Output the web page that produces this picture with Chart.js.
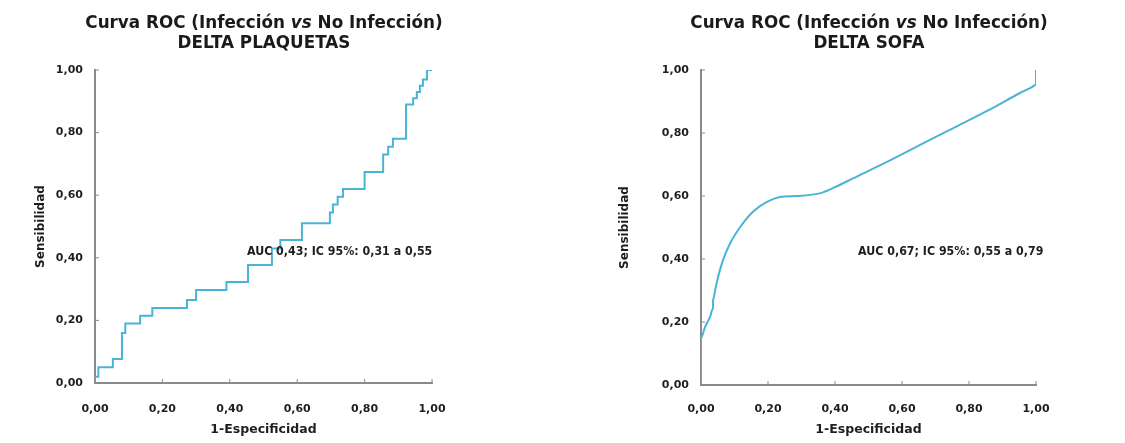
<!DOCTYPE html>
<html>
<head>
<meta charset="utf-8">
<script src="https://cdn.jsdelivr.net/npm/chart.js@4/dist/chart.umd.min.js"></script>
<style>
  body { margin: 0; background: #fff; }
  #page { position: relative; width: 1125px; height: 443px; overflow: hidden; }
  .box { position: absolute; top: 0; height: 443px; }
  .title {
    position: absolute; width: 500px; text-align: center;
    font-family: "DejaVu Sans", sans-serif; font-weight: bold; font-size: 16.8px;
    color: #1a1a1a; line-height: 20px;
  }
  .title i { font-style: italic; }
</style>
</head>
<body>
<div id="page">
  <div class="box" style="left:0;width:562px"><canvas id="leftChart"></canvas></div>
  <div class="box" style="left:562px;width:563px"><canvas id="rightChart"></canvas></div>
  <div class="title" style="left:14px;top:12px">Curva ROC (Infección <i>vs</i> No Infección)<br>DELTA PLAQUETAS</div>
  <div class="title" style="left:619px;top:12px">Curva ROC (Infección <i>vs</i> No Infección)<br>DELTA SOFA</div>
</div>
<script>
// Delta plaquetas ROC (step points: horizontal then vertical)
const plaqFpr = [0, 0, 0.01, 0.053, 0.08, 0.09, 0.134, 0.17, 0.273, 0.30, 0.39, 0.454, 0.525, 0.55, 0.614, 0.697, 0.706, 0.72, 0.736, 0.80, 0.855, 0.87, 0.884, 0.923, 0.944, 0.955, 0.964, 0.973, 0.985, 1];
const plaqTpr = [0, 0.02, 0.05, 0.077, 0.16, 0.19, 0.215, 0.24, 0.265, 0.297, 0.323, 0.377, 0.43, 0.457, 0.51, 0.545, 0.57, 0.595, 0.62, 0.674, 0.73, 0.755, 0.78, 0.89, 0.91, 0.93, 0.95, 0.97, 1, 1];

// Delta SOFA ROC (smooth curve)
const sofaFpr = [0, 0, 0.012, 0.027, 0.036, 0.036, 0.042, 0.051, 0.066, 0.087, 0.116, 0.155, 0.197, 0.236, 0.287, 0.36, 0.40, 0.454, 0.555, 0.654, 0.752, 0.854, 0.952, 0.997, 1, 1];
const sofaTpr = [0, 0.15, 0.184, 0.216, 0.244, 0.27, 0.30, 0.343, 0.397, 0.45, 0.50, 0.55, 0.581, 0.597, 0.60, 0.61, 0.628, 0.656, 0.708, 0.762, 0.815, 0.87, 0.927, 0.952, 0.955, 1];

const tickValues = [0, 0.2, 0.4, 0.6, 0.8, 1];
const aucLeft = "AUC 0,43; IC 95%: 0,31 a 0,55";
const aucRight = "AUC 0,67; IC 95%: 0,55 a 0,79";

const lineColor = "#4ab4d4";
const axisColor = "#8a8a8a";
const textColor = "#1e1e1e";

const fmt = (v) => v.toFixed(2).replace(".", ",");
const toPoints = (xs, ys) => xs.map((x, i) => ({ x: x, y: ys[i] }));

// small inward tick marks + AUC label
const extrasPlugin = {
  id: "extras",
  afterDraw(chart, args, opts) {
    const { ctx, scales: { x, y } } = chart;
    ctx.save();
    ctx.strokeStyle = axisColor;
    ctx.lineWidth = 1;
    tickValues.forEach((v) => {
      const px = x.getPixelForValue(v);
      const py = y.getPixelForValue(v);
      ctx.beginPath();
      ctx.moveTo(px, y.bottom);
      ctx.lineTo(px, y.bottom - 4);
      ctx.moveTo(x.left, py);
      ctx.lineTo(x.left + 4, py);
      ctx.stroke();
    });
    ctx.fillStyle = textColor;
    ctx.font = "bold 12.3px 'DejaVu Sans Condensed', 'DejaVu Sans', sans-serif";
    ctx.textAlign = "left";
    ctx.textBaseline = "middle";
    ctx.fillText(opts.text, x.getPixelForValue(opts.x), y.getPixelForValue(opts.y));
    ctx.restore();
  },
};

function makeChart(id, points, lineOpts, p) {
  return new Chart(document.getElementById(id), {
    type: "line",
    data: {
      datasets: [
        {
          data: points,
          borderColor: lineColor,
          borderWidth: 2,
          pointRadius: 0,
          fill: false,
          ...lineOpts,
        },
      ],
    },
    options: {
      responsive: true,
      maintainAspectRatio: false,
      animation: false,
      layout: { padding: { left: p.padLeft, right: p.padRight, top: 70, bottom: 0 } },
      plugins: {
        legend: { display: false },
        tooltip: { enabled: false },
        extras: { text: p.auc, x: p.aucX, y: p.aucY },
      },
      scales: {
        x: {
          type: "linear",
          min: 0,
          max: 1,
          afterFit: (s) => { s.height = p.xHeight; },
          afterBuildTicks: (s) => { s.ticks = tickValues.map((v) => ({ value: v })); },
          border: { color: axisColor, width: 2 },
          grid: { drawOnChartArea: false, drawTicks: false },
          ticks: {
            padding: p.xTickPad,
            color: textColor,
            font: { family: "DejaVu Sans", weight: "bold", size: 11 },
            callback: (v) => fmt(v),
          },
          title: {
            display: true,
            text: "1-Especificidad",
            color: textColor,
            font: { family: "DejaVu Sans", weight: "bold", size: 12.5 },
            padding: { top: 0, bottom: 6 },
          },
        },
        y: {
          min: 0,
          max: 1,
          afterFit: (s) => { s.width = 95; },
          afterBuildTicks: (s) => { s.ticks = tickValues.map((v) => ({ value: v })); },
          border: { color: axisColor, width: 2 },
          grid: { drawOnChartArea: false, drawTicks: false },
          ticks: {
            padding: 12,
            color: textColor,
            font: { family: "DejaVu Sans", weight: "bold", size: 11 },
            callback: (v) => fmt(v),
          },
          title: {
            display: true,
            text: "Sensibilidad",
            color: textColor,
            font: { family: "DejaVu Sans", weight: "bold", size: 12 },
            padding: { top: p.yTitlePad, bottom: 0 },
          },
        },
      },
    },
    plugins: [extrasPlugin],
  });
}

const leftChart = makeChart("leftChart", toPoints(plaqFpr, plaqTpr), { stepped: "before", tension: 0 }, {
  padLeft: 0, padRight: 130, xHeight: 60, xTickPad: 20, yTitlePad: 34,
  auc: aucLeft, aucX: 0.451, aucY: 0.418,
});

const rightChart = makeChart("rightChart", toPoints(sofaFpr, sofaTpr), { cubicInterpolationMode: "monotone" }, {
  padLeft: 44, padRight: 89, xHeight: 58, xTickPad: 18, yTitlePad: 12,
  auc: aucRight, aucX: 0.469, aucY: 0.422,
});
</script>
</body>
</html>
